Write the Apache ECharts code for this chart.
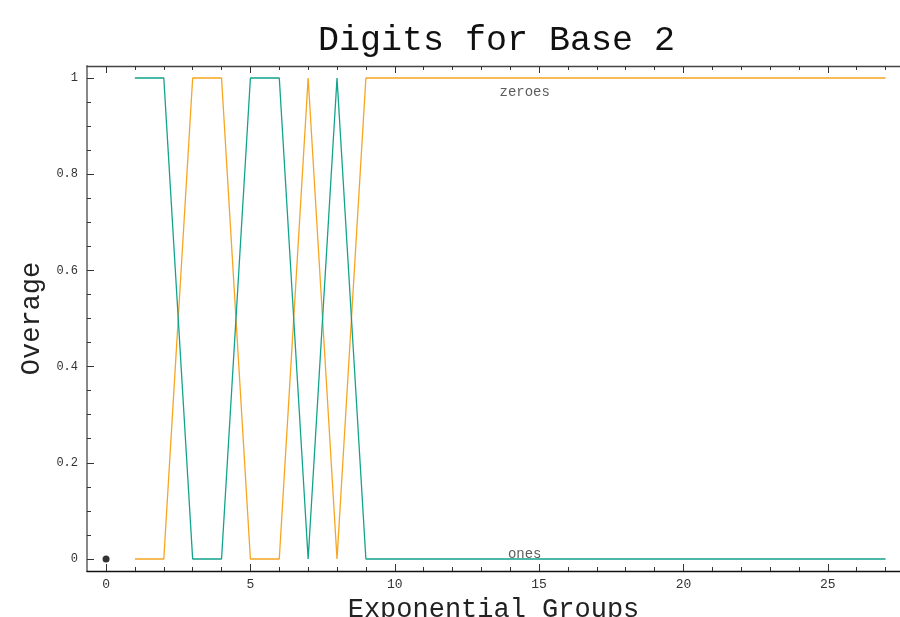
<!DOCTYPE html>
<html>
<head>
<meta charset="utf-8">
<script src="https://cdn.jsdelivr.net/npm/echarts@6/dist/echarts.min.js"></script>
<style>
  html, body { margin: 0; padding: 0; background: #fff; }
  #main { width: 900px; height: 617px; }
</style>
</head>
<body>
<div id="main"></div>
<script>
// exponential groups 1..27
const groups = [1, 2, 3, 4, 5, 6, 7, 8, 9, 10, 11, 12, 13, 14, 15, 16, 17, 18, 19, 20, 21, 22, 23, 24, 25, 26, 27]
const zeroes = [0, 0, 1, 1, 0, 0, 1, 0, 1, 1, 1, 1, 1, 1, 1, 1, 1, 1, 1, 1, 1, 1, 1, 1, 1, 1, 1]
const ones = [1, 1, 0, 0, 1, 1, 0, 1, 0, 0, 0, 0, 0, 0, 0, 0, 0, 0, 0, 0, 0, 0, 0, 0, 0, 0, 0]
const origin = [[0, 0]]
const xMajorTicks = [0, 5, 10, 15, 20, 25]
const xMinorTicks = [0, 1, 2, 3, 4, 5, 6, 7, 8, 9, 10, 11, 12, 13, 14, 15, 16, 17, 18, 19, 20, 21, 22, 23, 24, 25, 26, 27]
const yMajorTicks = [0, 0.2, 0.4, 0.6, 0.8, 1]
const yMinorTicks = [0, 0.05, 0.1, 0.15, 0.2, 0.25, 0.3, 0.35, 0.4, 0.45, 0.5, 0.55, 0.6, 0.65, 0.7, 0.75, 0.8, 0.85, 0.9, 0.95, 1]
const textLabels = [
  { name: 'zeroes', pos: [14.5, 0.97] },
  { name: 'ones', pos: [14.5, 0.01] }
]

const mono = 'Liberation Mono'
const xMin = -0.66
const xMax = 27.5
const yMin = -0.025
const yMax = 1.025

const chart = echarts.init(document.getElementById('main'))

function xAxisOf (pos, ticks, len, withLabels, lineColor, showLine) {
  return {
    type: 'value',
    position: pos,
    min: xMin,
    max: xMax,
    splitLine: { show: false },
    axisLine: { show: showLine, onZero: false, lineStyle: { color: lineColor, width: 1.3 } },
    axisTick: { show: true, inside: true, length: len, customValues: ticks, lineStyle: { color: '#333', width: 1 } },
    axisLabel: withLabels
      ? { show: true, customValues: ticks, margin: 7, fontFamily: mono, fontSize: 13, color: '#333' }
      : { show: false }
  }
}

function yAxisOf (ticks, len, withLabels) {
  return {
    type: 'value',
    position: 'left',
    min: yMin,
    max: yMax,
    splitLine: { show: false },
    axisLine: { show: withLabels, onZero: false, lineStyle: { color: '#888', width: 2 } },
    axisTick: { show: true, inside: true, length: len, customValues: ticks, lineStyle: { color: '#333', width: 1 } },
    axisLabel: withLabels
      ? { show: true, customValues: ticks, margin: 9, fontFamily: mono, fontSize: 12, color: '#333' }
      : { show: false },
    name: withLabels ? 'Overage' : '',
    nameLocation: 'middle',
    nameGap: 42,
    nameTextStyle: { fontFamily: mono, fontSize: 27, color: '#222' }
  }
}

const xAxes = [
  xAxisOf('bottom', xMajorTicks, 7, true, '#111', true),
  xAxisOf('bottom', xMinorTicks, 4, false, '#111', false),
  xAxisOf('top', xMajorTicks, 7, false, '#444', true),
  xAxisOf('top', xMinorTicks, 4, false, '#444', false)
]
xAxes[0].name = 'Exponential Groups'
xAxes[0].nameLocation = 'middle'
xAxes[0].nameGap = 19
xAxes[0].nameTextStyle = { fontFamily: mono, fontSize: 27, color: '#222' }

const option = {
  backgroundColor: '#fff',
  animation: false,
  title: {
    text: 'Digits for Base 2',
    left: 313,
    top: 18,
    textStyle: { fontFamily: mono, fontSize: 35, fontWeight: 'normal', color: '#111' }
  },
  grid: { left: 87, right: 0, top: 66, bottom: 46, outerBoundsMode: 'none' },
  xAxis: xAxes,
  yAxis: [yAxisOf(yMajorTicks, 7, true), yAxisOf(yMinorTicks, 4, false)],
  series: [
    {
      name: 'zeroes',
      type: 'line',
      data: groups.map((g, i) => [g, zeroes[i]]),
      showSymbol: false,
      lineStyle: { color: '#f7a521', width: 1.3 },
      z: 3
    },
    {
      name: 'ones',
      type: 'line',
      data: groups.map((g, i) => [g, ones[i]]),
      showSymbol: false,
      lineStyle: { color: '#12a38c', width: 1.3 },
      z: 4
    },
    {
      type: 'scatter',
      data: origin,
      symbolSize: 7,
      itemStyle: { color: '#000' }
    },
    {
      type: 'scatter',
      data: textLabels.map(t => ({ name: t.name, value: t.pos })),
      symbolSize: 0,
      label: {
        show: true,
        position: 'inside',
        formatter: p => p.name,
        fontFamily: mono,
        fontSize: 14,
        color: '#333'
      },
      z: 5
    }
  ]
}

chart.setOption(option)
</script>
</body>
</html>
